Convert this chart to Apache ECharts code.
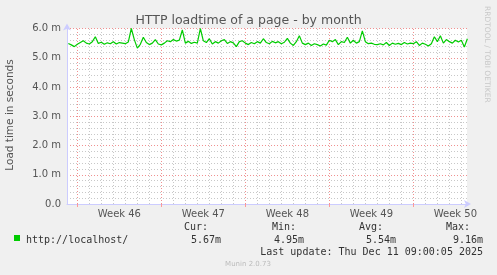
<!DOCTYPE html>
<html><head><meta charset="utf-8">
<script src="https://cdn.jsdelivr.net/npm/echarts@6/dist/echarts.min.js"></script>
<style>html,body{margin:0;padding:0;background:#f0f0f0;}#c{width:497px;height:275px;}</style>
</head><body><div id="c"></div>
<script>
// x in days since Monday of week 46 (Nov 10, 2025 00:00)
const startDay = -0.75;
const stepDay = 0.25;
const loadMs = [
  5.49,5.44,5.38,
  5.46,5.52,5.58,5.50, 5.47,5.55,5.72,5.49, 5.53,5.46,5.51,5.48, 5.55,5.47,5.52,5.50,
  5.48,5.54,6.00,5.62, 5.33,5.46,5.70,5.52, 5.45,5.50,5.62,5.47, 5.44,5.50,5.58,5.55,
  5.62,5.57,5.60,5.95, 5.50,5.56,5.49,5.53, 5.50,6.00,5.58,5.52, 5.65,5.47,5.55,5.50,
  5.58,5.62,5.49,5.55, 5.51,5.38,5.55,5.58, 5.50,5.45,5.52,5.48, 5.55,5.50,5.65,5.52,
  5.48,5.56,5.51,5.55, 5.48,5.53,5.66,5.50, 5.42,5.55,5.75,5.50, 5.45,5.50,5.42,5.48,
  5.45,5.40,5.47,5.43, 5.60,5.55,5.62,5.45, 5.55,5.52,5.70,5.50, 5.60,5.50,5.55,5.92,
  5.55,5.48,5.50,5.46, 5.45,5.48,5.44,5.52, 5.42,5.50,5.46,5.49, 5.45,5.52,5.47,5.50,
  5.48,5.55,5.42,5.50, 5.46,5.40,5.48,5.72, 5.55,5.75,5.50,5.62, 5.55,5.50,5.60,5.54,
  5.60,5.37,5.65
];
const weekStarts = [0, 7, 14, 21, 28];
const weekLabelPos = [3.5, 10.5, 17.5, 24.5, 31.5];
const weekLabels = ['Week 46', 'Week 47', 'Week 48', 'Week 49', 'Week 50'];
const legendName = 'http://localhost/';
const statNames = ['Cur:', 'Min:', 'Avg:', 'Max:'];
const statValues = ['5.67m', '4.95m', '5.54m', '9.16m'];
const lastUpdate = 'Last update: Thu Dec 11 09:00:05 2025';

const xMin = -0.86, xMax = 32.47;
const points = loadMs.map((v, i) => [startDay + i * stepDay, v]);
const dayLines = [];
for (let d = Math.ceil(xMin); d <= Math.floor(xMax); d++) if (weekStarts.indexOf(d) < 0) dayLines.push({xAxis: d});

const chart = echarts.init(document.getElementById('c'), null, {renderer: 'canvas'});
const mono = 'DejaVu Sans Mono';
const sans = 'DejaVu Sans';
const graphics = [];
graphics.push({type:'rect', shape:{x:14, y:235, width:6, height:6}, style:{fill:'#00cc00'}});
graphics.push({type:'text', x:26, y:240, style:{text:legendName, font:'10px "'+mono+'"', fill:'#333', textVerticalAlign:'middle'}});
const statRight = [221, 304, 396, 483];
const headRight = [208, 296, 383, 470];
statNames.forEach((s, i) => {
  graphics.push({type:'text', x:headRight[i], y:227, style:{text:s, font:'10px "'+mono+'"', fill:'#333', textAlign:'right', textVerticalAlign:'middle'}});
  graphics.push({type:'text', x:statRight[i], y:240, style:{text:statValues[i], font:'10px "'+mono+'"', fill:'#333', textAlign:'right', textVerticalAlign:'middle'}});
});
graphics.push({type:'text', x:483, y:252, style:{text:lastUpdate, font:'10px "'+mono+'"', fill:'#333', textAlign:'right', textVerticalAlign:'middle'}});
graphics.push({type:'text', x:248, y:264, style:{text:'Munin 2.0.73', font:'7px "'+sans+'"', fill:'#bbb', textAlign:'center', textVerticalAlign:'middle'}});
graphics.push({type:'text', x:487, y:6, rotation:-Math.PI/2, style:{text:'RRDTOOL / TOBI OETIKER', font:'7.5px "'+sans+'"', fill:'#c8c8c8', textAlign:'left', textVerticalAlign:'middle'}});
graphics.push({type:'text', x:10, y:115, rotation:Math.PI/2, style:{text:'Load time in seconds', font:'10.5px "'+sans+'"', fill:'#555', textAlign:'center', textVerticalAlign:'middle'}});

chart.setOption({
  animation: false,
  backgroundColor: '#f0f0f0',
  title: {text:'HTTP loadtime of a page - by month', left:'center', top:9, textStyle:{fontFamily:sans, fontSize:12.5, fontWeight:'normal', color:'#555'}},
  grid: {left:67, top:28.5, width:400, height:175.5, show:true, backgroundColor:'#fff', borderWidth:0},
  xAxis: {
    type:'value', min:xMin, max:xMax,
    axisLine:{show:true, lineStyle:{color:'#ccccff', width:1}, symbol:['none','arrow'], symbolSize:[6,7], symbolOffset:[0,4]},
    axisTick:{show:true, customValues:weekStarts, length:3, inside:false, lineStyle:{color:'#ff9999'}},
    axisLabel:{customValues:weekLabelPos, formatter:(v)=>{const i=weekLabelPos.indexOf(v); return i>=0?weekLabels[i]:'';}, fontFamily:sans, fontSize:10, color:'#555', margin:5},
    splitLine:{show:false}
  },
  yAxis: [
    {type:'value', min:0, max:6, interval:0.2, axisLine:{show:false}, axisTick:{show:false}, axisLabel:{show:false},
     splitLine:{show:true, lineStyle:{color:'#c8c8c8', type:[1,2], width:1}}},
    {type:'value', min:0, max:6, interval:1, position:'left',
     axisLine:{show:true, lineStyle:{color:'#ccccff'}, symbol:['none','arrow'], symbolSize:[6,7], symbolOffset:[0,5]},
     axisTick:{show:false},
     axisLabel:{fontFamily:sans, fontSize:10, color:'#555', margin:6, formatter:(v)=> v===0 ? '0.0' : v.toFixed(1)+' m'},
     splitLine:{show:true, lineStyle:{color:'#f09090', type:[1,2], width:1}}}
  ],
  series: [
    {type:'line', data:[], z:1, silent:true,
     markLine:{silent:true, symbol:'none', label:{show:false},
       lineStyle:{color:'#c8c8c8', type:[1,2], width:1}, data:dayLines}},
    {type:'line', data:[], z:1, silent:true,
     markLine:{silent:true, symbol:'none', label:{show:false},
       lineStyle:{color:'#f09090', type:[1,2], width:1}, data:weekStarts.map(d=>({xAxis:d}))}},
    {type:'line', data:points, yAxisIndex:1, z:5, showSymbol:false, symbol:'none',
     lineStyle:{color:'#00cc00', width:1.2}}
  ],
  graphic: graphics
});
</script></body></html>
